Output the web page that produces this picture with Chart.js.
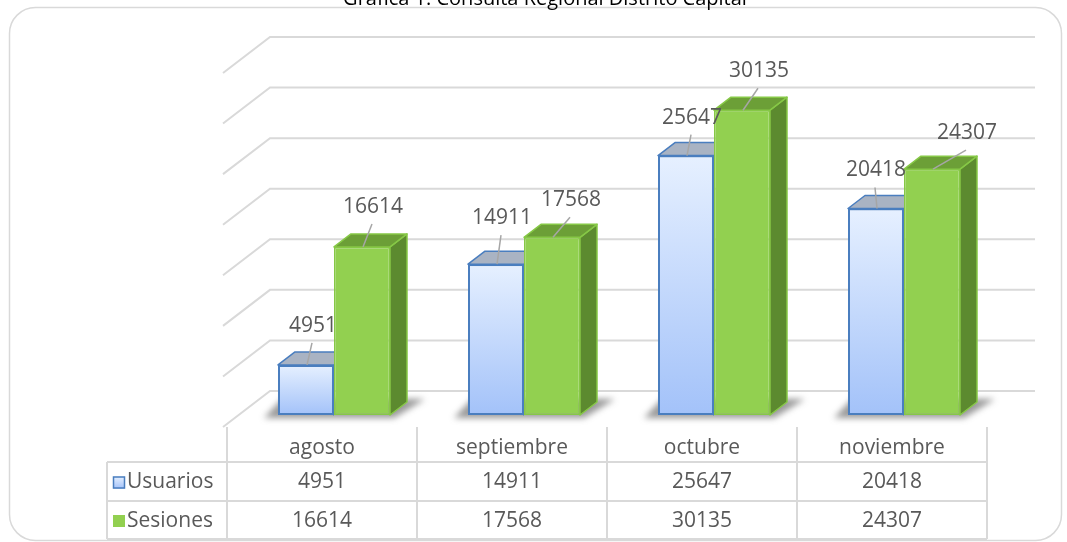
<!DOCTYPE html>
<html><head><meta charset="utf-8">
<script src="https://cdn.jsdelivr.net/npm/chart.js@4/dist/chart.umd.min.js"></script>
<style>html,body{margin:0;padding:0;background:#fff;overflow:hidden}</style>
</head><body>
<canvas id="c" width="1067" height="542" style="display:block"></canvas>
<script>
// ---- data ----
const chartTitle = 'Gráfica 1. Consulta Regional Distrito Capital';
const categories = ['agosto', 'septiembre', 'octubre', 'noviembre'];
const seriesNames = ['Usuarios', 'Sesiones'];
const usuarios = [4951, 14911, 25647, 20418];
const sesiones = [16614, 17568, 30135, 24307];
const yTicks = [0, 5000, 10000, 15000, 20000, 25000, 30000, 35000];

// ---- styling ----
const FONT = '"Open Sans", "DejaVu Sans", sans-serif';
const TXT = '#595959';
const GRID = '#d9d9d9';
const DEPTH = { dx: 17, dy: -13 };
const WALL = { left: 31, right: 36, back: -24, sideDx: -47, sideDy: 36 };
const TABLE = { shift: -12, left: 107, headY: 448, rowLines: [462, 501, 539], top: 427 };
const faceStyle = [
  { top: '#a9b3c3', side: '#7d9dd4', edge: '#4a7ebf' },
  { top: '#6c9f37', side: '#5c8a2f', edge: '#86c846' }
];
// label nudges (label centre relative to bar front-top centre)
const labelNudge = [
  [[7, -39], [6, -46], [6, -38], [0, -38]],
  [[11, -40], [19, -37], [17, -39], [35, -36]]
];

function barProps(chart, di, i) {
  const el = chart.getDatasetMeta(di).data[i];
  const p = el.getProps(['x', 'y', 'base', 'width'], true);
  return { xl: p.x - p.width / 2, xr: p.x + p.width / 2, cx: p.x, top: p.y, bot: p.base };
}
function poly(ctx, pts, fill, stroke, lw) {
  ctx.beginPath();
  pts.forEach((p, k) => k ? ctx.lineTo(p[0], p[1]) : ctx.moveTo(p[0], p[1]));
  ctx.closePath();
  if (fill) { ctx.fillStyle = fill; ctx.fill(); }
  if (stroke) { ctx.strokeStyle = stroke; ctx.lineWidth = lw || 1.5; ctx.lineJoin = 'round'; ctx.stroke(); }
}

const scene = {
  id: 'scene3d',
  beforeDatasetsDraw(chart) {
    const { ctx, chartArea: a, scales: { x, y } } = chart;
    ctx.save();
    // outer rounded frame
    ctx.strokeStyle = GRID; ctx.lineWidth = 1.5;
    ctx.beginPath(); ctx.roundRect(9.5, 7.5, 1052, 533, 26); ctx.stroke();
    // title (clipped at top as in the reference)
    ctx.fillStyle = '#000'; ctx.font = '20px ' + FONT; ctx.textAlign = 'center'; ctx.textBaseline = 'alphabetic';
    ctx.fillText(chartTitle, 545, 5);
    // back wall gridlines + side wall diagonals
    ctx.strokeStyle = GRID; ctx.lineWidth = 2;
    const bl = a.left + WALL.left, br = a.right + WALL.right;
    yTicks.forEach(v => {
      const by = y.getPixelForValue(v) + WALL.back;
      ctx.beginPath();
      ctx.moveTo(bl + WALL.sideDx, by + WALL.sideDy);
      ctx.lineTo(bl, by);
      ctx.lineTo(br, by);
      ctx.stroke();
    });
    // data table grid
    const cw = x.width / categories.length;
    const colX = k => x.getPixelForValue(0) - cw / 2 + TABLE.shift + k * cw;
    ctx.beginPath();
    for (let k = 0; k <= categories.length; k++) {
      ctx.moveTo(colX(k), TABLE.top); ctx.lineTo(colX(k), TABLE.rowLines[2]);
    }
    ctx.moveTo(TABLE.left, TABLE.rowLines[0]); ctx.lineTo(TABLE.left, TABLE.rowLines[2]);
    TABLE.rowLines.forEach(ly => { ctx.moveTo(TABLE.left, ly); ctx.lineTo(colX(categories.length), ly); });
    ctx.stroke();
    // table text
    ctx.font = '21px ' + FONT; ctx.fillStyle = TXT; ctx.textBaseline = 'middle'; ctx.textAlign = 'center';
    const rows = [usuarios, sesiones];
    categories.forEach((c, i) => {
      const cxm = (colX(i) + colX(i + 1)) / 2;
      ctx.fillText(c, cxm, TABLE.headY);
      rows.forEach((r, ri) => {
        ctx.fillText(String(r[i]), cxm, (TABLE.rowLines[ri] + TABLE.rowLines[ri + 1]) / 2 + 1);
      });
    });
    // row headers with legend keys
    seriesNames.forEach((n, ri) => {
      const cy = (TABLE.rowLines[ri] + TABLE.rowLines[ri + 1]) / 2 + 1;
      if (ri === 0) {
        const g = ctx.createLinearGradient(0, cy - 6, 0, cy + 6);
        g.addColorStop(0, '#e6f0ff'); g.addColorStop(1, '#a3c2f9');
        ctx.fillStyle = g; ctx.fillRect(113, cy - 6, 12, 12);
        ctx.strokeStyle = '#4a7ebf'; ctx.lineWidth = 1.5; ctx.strokeRect(113.5, cy - 5.5, 11, 11);
      } else {
        ctx.fillStyle = '#92d050'; ctx.fillRect(113, cy - 6, 12, 12);
      }
      ctx.fillStyle = TXT; ctx.textAlign = 'left';
      ctx.fillText(n, 127, cy);
    });
    // soft shadows on floor
    ctx.filter = 'blur(3px)';
    categories.forEach((c, i) => {
      const u = barProps(chart, 0, i), s = barProps(chart, 1, i);
      const xl = u.xl, xr = s.xr, bot = s.bot;
      poly(ctx, [[xl - 14, bot + 3], [xr + 4, bot + 3], [xr + DEPTH.dx + 18, bot - 16], [xl + 4, bot - 16]], 'rgba(70,70,70,0.55)');
    });
    ctx.filter = 'none';
    ctx.restore();
  },
  afterDatasetDraw(chart, args) {
    const di = args.index, { ctx } = chart, st = faceStyle[di];
    const { dx, dy } = DEPTH;
    ctx.save();
    categories.forEach((c, i) => {
      const b = barProps(chart, di, i);
      if (di === 0) {
        // Usuarios is drawn after Sesiones: keep its hidden parts behind the neighbour
        const s = barProps(chart, 1, i);
        ctx.save();
        if (s.top < b.top + dy) { ctx.beginPath(); ctx.rect(0, 0, s.xl, chart.height); ctx.clip(); }
        poly(ctx, [[b.xr, b.top], [b.xr + dx, b.top + dy], [b.xr + dx, b.bot + dy], [b.xr, b.bot]], st.side, st.edge, 1.5);
        poly(ctx, [[b.xl, b.top], [b.xl + dx, b.top + dy], [b.xr + dx, b.top + dy], [b.xr, b.top]], st.top, st.edge, 1.5);
        ctx.restore();
      } else {
        poly(ctx, [[b.xr, b.top], [b.xr + dx, b.top + dy], [b.xr + dx, b.bot + dy], [b.xr, b.bot]], st.side, st.edge, 1.5);
        poly(ctx, [[b.xl, b.top], [b.xl + dx, b.top + dy], [b.xr + dx, b.top + dy], [b.xr, b.top]], st.top, st.edge, 1.5);
      }
    });
    ctx.restore();
  },
  afterDatasetsDraw(chart) {
    const { ctx } = chart;
    ctx.save();
    ctx.font = '21px ' + FONT; ctx.textAlign = 'center'; ctx.textBaseline = 'middle';
    [usuarios, sesiones].forEach((arr, di) => {
      arr.forEach((v, i) => {
        const b = barProps(chart, di, i);
        const lx = b.cx + labelNudge[di][i][0], ly = b.top + labelNudge[di][i][1];
        ctx.strokeStyle = '#a6a6a6'; ctx.lineWidth = 1.5;
        ctx.beginPath(); ctx.moveTo(lx - 1, ly + 17); ctx.lineTo(b.cx + 1, b.top); ctx.stroke();
        ctx.fillStyle = TXT;
        ctx.fillText(String(v), lx, ly);
      });
    });
    ctx.restore();
  }
};

new Chart(document.getElementById('c'), {
  type: 'bar',
  data: {
    labels: categories,
    datasets: [
      {
        label: seriesNames[0], data: usuarios,
        backgroundColor: (c) => {
          const ch = c.chart, ys = ch.scales && ch.scales.y;
          if (!ys || c.raw === undefined) return '#c6dafc';
          const t = ys.getPixelForValue(c.raw), b = ys.getPixelForValue(0);
          if (!isFinite(t) || !isFinite(b) || t === b) return '#c6dafc';
          const g = ch.ctx.createLinearGradient(0, t, 0, b);
          g.addColorStop(0, '#e6f0ff'); g.addColorStop(1, '#a3c2f9');
          return g;
        },
        borderColor: faceStyle[0].edge, borderWidth: 2, borderSkipped: false
      },
      {
        label: seriesNames[1], data: sesiones,
        backgroundColor: '#92d050', borderColor: faceStyle[1].edge, borderWidth: 1.5, borderSkipped: false
      }
    ]
  },
  options: {
    responsive: false, animation: false, devicePixelRatio: 1,
    layout: { padding: { left: 239, right: 68, top: 61, bottom: 127 } },
    categoryPercentage: 112 / 190, barPercentage: 1,
    scales: {
      x: { display: false, offset: true },
      y: { display: false, min: 0, max: 35000 }
    },
    plugins: { legend: { display: false }, tooltip: { enabled: false }, title: { display: false } }
  },
  plugins: [scene]
});
</script>
</body></html>
